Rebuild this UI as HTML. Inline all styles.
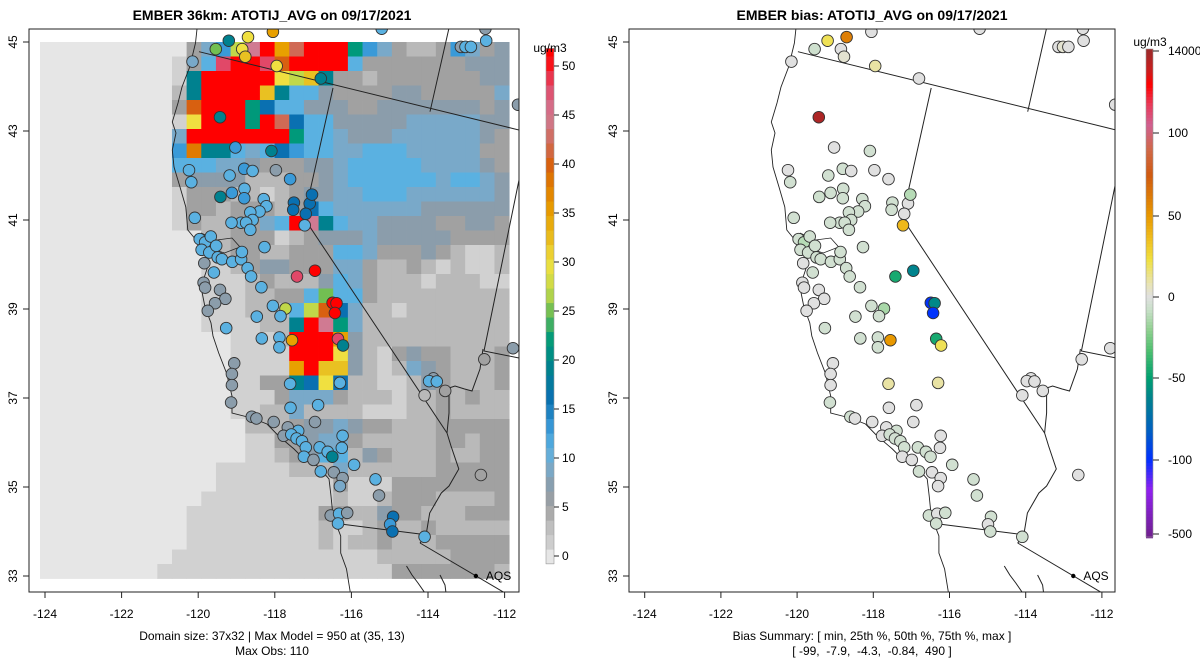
<!DOCTYPE html>
<html><head><meta charset="utf-8"><style>
body{margin:0;background:#fff}
svg{display:block;font-family:"Liberation Sans",Arial,sans-serif}
</style></head><body>
<svg id="chart" width="1200" height="672" viewBox="0 0 1200 672">
<rect width="1200" height="672" fill="#fff"/>
<defs>
<clipPath id="clipL"><rect x="29" y="29" width="490" height="563"/></clipPath>
<clipPath id="clipR"><rect x="629" y="29" width="486" height="563"/></clipPath>
</defs>
<text x="272" y="20" text-anchor="middle" font-size="14" font-weight="bold">EMBER 36km: ATOTIJ_AVG on 09/17/2021</text>
<text x="872" y="20" text-anchor="middle" font-size="14" font-weight="bold">EMBER bias: ATOTIJ_AVG on 09/17/2021</text>
<g id="left"></g>
<g id="right"></g>
<text x="272" y="640" text-anchor="middle" font-size="12">Domain size: 37x32 | Max Model = 950 at (35, 13)</text>
<text x="272" y="655" text-anchor="middle" font-size="12">Max Obs: 110</text>
<text x="872" y="640" text-anchor="middle" font-size="12">Bias Summary: [ min, 25th %, 50th %, 75th %, max ]</text>
<text x="872" y="655" text-anchor="middle" font-size="12" xml:space="preserve">[ -99,  -7.9,  -4.3,  -0.84,  490 ]</text>
</svg>
<script>
// ---- model grid (one char per cell, row 0 = north) ----
const gridRows = [
"..........ceglsuoruuujgecbbcgecd",
".........acftuutquuuufcccccccddd",
".........aiuuuuumlniccbcccccccdd",
".........biuuuuniffdccccddccccce",
".........cquuujhffdddccdddddddcd",
".........amuuujurhffdddddeeeeedd",
".........euuuuuuujffedddeeeeeedc",
".........gpiifefhgffeefffeeeeecc",
".........fffeedcccddefffffeeeedc",
".........cddddbbbccdeffffffeffed",
".........acccbbabcddeefffeeeeeed",
".........accbcccbchfeeeeeedddddd",
".........acbbccefusifeeddddccddc",
"...........bbcccabcdddedddddcccc",
"...........abccbbcccffecccdcbaab",
"...........aabcddccceecbbcbabaab",
"...........aaabcbbbdfecbbbabbbaa",
"...........aaabbccfkffcbbbbbbbbb",
"...........aaabbbflqhebbabbbbbbb",
"...........aaaabbiusjebbbbbbbbbb",
".............aaabuuuodbbbbbbbbbb",
".............aaaauuumdbacdccbbbc",
".............aaaaounndbabedcbbbc",
".............aaccihmhbbaabdcbbbc",
".............aaaceeecbbbabbcbcbb",
".............aabbebbbbaaabbcbbbb",
"..............bbbcddedccbbbccccc",
"..............aaccdeecbbbbbccbcc",
"..............aabcdffbdcbbbcbbcc",
"............aaaaabbbebbbbbbccccc",
"............aaaaaaaacaaacccccccc",
"...........aaaaaaaaabaabcccbbbbc",
"..........aaaaaaaaaccbbdccbbbccc",
"..........aaaaaaaaabaabcbbcbbbbb",
"..........aaaaaaaaababbcbbbcccccc".slice(0,32),
".........aaaaaaaaaaaaaabbbbbcccc",
"........aaaaaaaaaaaaaaaacccccccb"
];
const levelCodes = ".abcdefghijklmnopqrstu";
const levelValues = [-1,1,3.5,5,7,9,11,13,16,19,22,25,27,30,32,35,38,40,42,45,48,51];
const palVals = [-1,0,1,3.5,5,7,9,11,13,16,19,22,25,27,30,32,35,38,40,42,45,48,51];
const palCols = ["#e6e6e6","#e6e6e6","#d1d1d1","#b9b9b9","#a1a1a1","#8b9dab","#79a9c9","#5ab1e1","#3a9ad8","#0a70b1","#00818f","#00997a","#72bf52","#c1d849","#f0e040","#e9c122","#e8a000","#e07a00","#d86010","#d06a55","#d07a92","#e14868","#ff0000"];
// ---- monitoring sites ----
const siteLon = [-119.20,-118.70,-118.05,-119.54,-118.85,-118.77,-117.95,-120.15,-116.80,-119.43,-119.03,-118.09,-117.97,-120.24,-120.18,-119.18,-118.80,-118.58,-117.60,-118.79,-118.80,-119.12,-119.42,-118.29,-118.22,-118.40,-118.64,-118.58,-118.88,-118.75,-119.13,-118.64,-120.09,-117.50,-117.09,-117.03,-117.52,-117.19,-117.22,-119.96,-119.82,-119.67,-119.91,-119.71,-119.53,-119.49,-119.38,-119.84,-119.11,-118.88,-118.86,-118.27,-118.71,-118.62,-119.59,-117.42,-116.95,-119.86,-119.82,-119.43,-119.29,-119.56,-119.75,-118.35,-118.05,-117.72,-116.49,-116.39,-116.43,-118.47,-117.85,-119.27,-118.34,-117.88,-117.88,-117.55,-116.35,-116.22,-119.06,-119.12,-119.12,-119.14,-117.60,-116.30,-117.59,-116.87,-118.60,-118.48,-118.03,-116.95,-117.66,-117.39,-117.77,-117.57,-117.43,-117.29,-116.23,-117.19,-117.24,-116.99,-116.83,-116.62,-116.50,-116.25,-115.93,-116.80,-116.46,-116.23,-116.30,-115.37,-115.28,-116.54,-116.32,-116.11,-116.35,-114.91,-114.99,-114.93,-114.09,-113.86,-113.97,-113.77,-114.09,-113.55,-115.21,-113.14,-113.02,-112.88,-112.48,-112.50,-111.65,-112.62,-112.53,-111.78];
const siteLat = [45.03,45.11,45.23,44.84,44.84,44.67,44.46,44.56,44.18,43.31,42.63,42.55,42.12,42.12,41.85,42.00,42.15,42.10,41.92,41.70,41.49,41.61,41.52,41.47,41.31,41.19,41.17,41.00,40.94,40.94,40.94,40.78,41.05,41.39,41.37,41.57,41.23,41.14,40.88,40.57,40.50,40.63,40.33,40.27,40.42,40.16,40.12,40.03,40.06,40.12,40.28,40.39,39.92,39.73,39.82,39.73,39.86,39.59,39.48,39.43,39.23,39.13,38.96,39.49,39.07,39.01,39.14,39.13,38.91,38.83,38.84,38.57,38.34,38.36,38.14,38.30,38.33,38.18,37.78,37.54,37.29,36.90,37.32,37.34,36.78,36.84,36.58,36.54,36.46,36.46,36.34,36.26,36.15,36.18,36.09,36.03,36.15,35.89,35.68,35.61,35.89,35.79,35.68,35.88,35.50,35.35,35.33,35.20,35.02,35.17,34.81,34.36,34.40,34.42,34.18,34.33,34.16,34.00,33.88,37.44,37.38,37.37,37.06,37.16,45.30,44.89,44.89,44.89,45.03,45.30,43.59,35.27,37.87,38.12];
const siteObs = [20,30,35,25,30,33,31,9,20,20,14,20,8,12,12,12,14,12,13,12,15,13,20,12,12,12,12,12,12,12,12,12,12,16,16,16,16,16,12,12,12,12,12,12,12,12,12,7,12,12,12,12,12,12,12,48,51,7,7,7,7,7,7,12,12,28,55,55,55,12,12,12,12,12,12,35,50,20,7,7,7,7,12,12,12,12,7,7,7,7,7,12,8,12,12,12,12,12,12,8,12,12,20,12,12,12,8,8,9,12,8,8,12,8,12,16,14,16,12,8,12,12,4,5,12,8,12,12,12,8,8,6,6,7];
const siteBias = [20,60,0,-6,0,3,10,0,0,490,0,-5,0,0,-5,-5,-5,0,0,-5,-5,-5,-6,-5,-5,-5,-5,-5,-5,-5,-5,-5,-5,-5,0,-12,-5,0,38,-5,-12,-5,-5,-5,-5,-5,-5,0,-5,-5,-5,-5,-5,-5,-5,-45,-62,0,0,0,0,0,0,-5,-5,-15,-99,-60,-99,-5,-5,-5,-5,-5,-5,50,-45,20,0,0,0,-5,10,10,0,0,-5,0,0,0,0,-5,0,-5,-5,-5,0,-5,0,0,-5,-5,-5,0,-5,-5,0,0,0,-5,-5,-5,0,-5,-5,-5,0,-5,-5,0,0,0,0,0,0,0,3,0,0,0,0,0,0,0];
const obsTicks = [0,5,10,15,20,25,30,35,40,45,50];
const biasTicks = [-500,-100,-50,0,50,100,14000];
const biasTickLabels = ["-500","-100","-50","0","50","100","14000"];

// ---- geometry (left-panel pixel coordinates, converted to lon/lat) ----
const coastPx=[[197,29],[195.5,43],[189.7,67],[182,87],[178,103],[172.3,122],[176,133],[172.3,150],[174,167],[180,187],[185.8,207],[187.8,230],[193.6,237],[201,247],[209,263],[201,287],[205,307],[211,323],[213,336],[218.7,353],[226.5,373],[232,396],[232,413],[251.6,418],[267,424],[278.7,436],[294,449],[304,459],[317.5,466],[329,479],[331,496],[333,516],[340.7,536],[340.7,553],[346.5,569],[350.4,593]];
const bayPx=[[201,233],[216.8,240],[232,238],[240,247],[224.5,253],[209,248],[201,240]];
const borderLines=[
 [[199,51.7],[519,130]],
 [[449,28],[430,111.7]],
 [[333,88],[304,218],[447,433]],
 [[519,180],[484,351],[519,358]],
 [[483,349],[480,369],[472,391],[464.6,389],[455,386],[449,388],[449,413],[447,433],[451,446],[458.8,469],[449,486],[441.3,493],[429.7,513],[425.9,536],[420,543]],
 [[340.7,524],[420,534]],
 [[420,543],[505,593]],
 [[406.5,566],[412,575],[418,583],[425,593]],
 [[440,575],[445,585],[446,593]]
];
const pxLon=x=>-124+(x-45)/38.3, pxLat=y=>45-(y-42)/44.5;

const NS="http://www.w3.org/2000/svg";
function mk(tag,attrs,parent){const e=document.createElementNS(NS,tag);for(const k in attrs)e.setAttribute(k,attrs[k]);parent.appendChild(e);return e;}
function hex(c){return [1,3,5].map(i=>parseInt(c.substr(i,2),16));}
function lerpCol(a,b,t){const A=hex(a),B=hex(b);return "rgb("+A.map((v,i)=>Math.round(v+(B[i]-v)*t)).join(",")+")";}
function obsColor(v){let i=0;while(i<palVals.length-1&&palVals[i+1]<=v)i++;return palCols[i];}
function obsColorSmooth(v){if(v<=palVals[0])return palCols[0];for(let i=0;i<palVals.length-1;i++){if(v<=palVals[i+1])return lerpCol(palCols[i],palCols[i+1],(v-palVals[i])/(palVals[i+1]-palVals[i]));}return palCols[palCols.length-1];}
// bias scale anchors (value -> bar y); includes an internal anchor in the upper stretched segment
const bScaleV=[-500,-100,-50,0,50,100,490,14000];
const bScaleY=[534,460,378,297,216,133,58,51];
const bTickY=[534,460,378,297,216,133,51];
function biasY(v){if(v<=bScaleV[0])return bScaleY[0];for(let i=0;i<bScaleV.length-1;i++){if(v<=bScaleV[i+1])return bScaleY[i]+(bScaleY[i+1]-bScaleY[i])*(v-bScaleV[i])/(bScaleV[i+1]-bScaleV[i]);}return bScaleY[bScaleY.length-1];}
const bGradY=[51,70,85,105,125,150,175,216,240,260,285,297,310,330,350,378,400,430,460,490,536];
const bGradC=["#9e2a2a","#c81e1e","#ff0000","#e83a5a","#d06090","#d06848","#d05a10","#e89800","#f0c020","#f0e040","#e8e4b8","#e0e0e0","#c8e0c8","#90d090","#50c070","#00a070","#008090","#0060c0","#0030ff","#9020f0","#702090"];
function colAtY(y){if(y<=bGradY[0])return bGradC[0];for(let i=0;i<bGradY.length-1;i++){if(y<=bGradY[i+1])return lerpCol(bGradC[i],bGradC[i+1],(y-bGradY[i])/(bGradY[i+1]-bGradY[i]));}return bGradC[bGradC.length-1];}
function biasColor(v){return colAtY(biasY(v));}

function panel(g,x0,k,isLeft){
  const X=lon=>x0+(lon+124)*k, Y=lat=>42+(45-lat)*44.5;
  const bx=isLeft?29:629, bw=isLeft?490:486;
  const clip=mk("g",{"clip-path":isLeft?"url(#clipL)":"url(#clipR)"},g);
  if(isLeft){
    const cells=mk("g",{},clip);
    
    
    const lon0=-124.13,dLon=14.66/38.3,dLat=14.5/44.5;
    gridRows.forEach((row,r)=>{for(let c=0;c<32;c++){
      const v=levelValues[levelCodes.indexOf(row[c])];
      const x1=X(lon0+c*dLon),x2=X(lon0+(c+1)*dLon),y1=Y(45-r*dLat),y2=Y(45-(r+1)*dLat);
      const e=mk("rect",{x:x1.toFixed(2),y:y1.toFixed(2),width:(x2-x1+0.4).toFixed(2),height:(y2-y1+0.4).toFixed(2),fill:obsColor(v)},cells);
      
      
    }});
  }
  const lines=mk("g",{fill:"none",stroke:"#222","stroke-width":"1"},clip);
  
  
  const toPts=arr=>arr.map(p=>X(pxLon(p[0])).toFixed(1)+","+Y(pxLat(p[1])).toFixed(1)).join(" ");
  const coast=mk("polyline",{points:toPts(coastPx),"stroke-width":"0.9"},lines);
  
  
  mk("polyline",{points:toPts(bayPx),"stroke-width":"0.8"},lines);
  borderLines.forEach(b=>{const e=mk("polyline",{points:toPts(b)},lines);
    
    });
  const pts=mk("g",{},clip);
  
  
  for(let i=0;i<siteLon.length;i++){
    const c=mk("circle",{cx:X(siteLon[i]).toFixed(1),cy:Y(siteLat[i]).toFixed(1),r:"5.8",fill:isLeft?obsColor(siteObs[i]):biasColor(siteBias[i]),stroke:"#333","stroke-width":"0.9"},pts);
    
    
  }
  const aq=mk("circle",{cx:X(-112.75),cy:Y(33.0),r:"2.2",fill:"#000"},clip);
  
  
  const at=mk("text",{x:X(-112.75)+10,y:Y(33.0)+4,"font-size":"12"},clip);at.textContent="AQS";
  
  
  const fr=mk("rect",{x:bx,y:29,width:bw,height:563,fill:"none",stroke:"#222","stroke-width":"1"},g);
  
  
  for(let lon=-124;lon<=-112;lon+=2){
    const x=X(lon);
    mk("line",{x1:x,x2:x,y1:592,y2:598,stroke:"#222"},g);
    const t=mk("text",{x:x,y:618,"text-anchor":"middle","font-size":"12"},g);t.textContent=String(lon);
    
    
  }
  for(let lat=33;lat<=45;lat+=2){
    const y=Y(lat);
    mk("line",{x1:bx-6,x2:bx,y1:y,y2:y,stroke:"#222"},g);
    const t=mk("text",{x:0,y:0,"text-anchor":"middle","font-size":"12",transform:`translate(${bx-12},${y}) rotate(-90)`},g);t.textContent=String(lat);
    
    
  }
}
panel(document.getElementById('left'),45,38.3,true);
panel(document.getElementById('right'),644.7,38.1,false);

(function(){
  const g=mk("g",{},document.getElementById('left'));
  
  
  const vy=v=>556-v*9.8;
  const step=1.48;
  for(let v=-0.8;v<51.8;v+=step){
    const y1=vy(Math.min(v+step,51.8)),y2=vy(v);
    mk("rect",{x:546,y:y1.toFixed(2),width:8,height:(y2-y1+0.3).toFixed(2),fill:obsColorSmooth(v+step/2)},g);
  }
  mk("rect",{x:546,y:vy(51.8),width:8,height:vy(-0.8)-vy(51.8),fill:"none",stroke:"#999","stroke-width":"0.6"},g);
  obsTicks.forEach(v=>{mk("line",{x1:554,x2:559,y1:vy(v),y2:vy(v),stroke:"#222"},g);
    const t=mk("text",{x:562,y:vy(v)+4,"font-size":"12"},g);t.textContent=v;
    
    });
  const u=mk("text",{x:550,y:52,"text-anchor":"middle","font-size":"12"},g);u.textContent="ug/m3";
  
  
})();
(function(){
  const g=mk("g",{},document.getElementById('right'));
  
  
  for(let y=49;y<537;y+=3){mk("rect",{x:1146,y:y,width:7,height:3.3,fill:colAtY(y+1.5)},g);}
  mk("rect",{x:1146,y:49,width:7,height:488,fill:"none",stroke:"#999","stroke-width":"0.6"},g);
  biasTicks.forEach((v,i)=>{const y=bTickY[i];mk("line",{x1:1153,x2:1159,y1:y,y2:y,stroke:"#222"},g);
    const t=mk("text",{x:1168,y:y+4,"font-size":"12"},g);t.textContent=biasTickLabels[i];
    
    });
  const u=mk("text",{x:1150,y:46,"text-anchor":"middle","font-size":"12"},g);u.textContent="ug/m3";
  
  
})();
</script>
</body></html>
